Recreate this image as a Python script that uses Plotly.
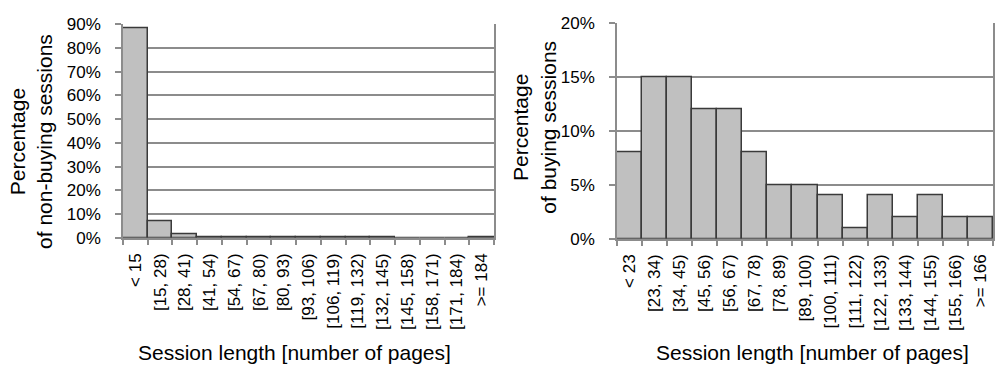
import plotly.graph_objects as go

# Session-length bins (number of pages) and share of sessions in each bin
nonbuy_bins = ["< 15", "[15, 28)", "[28, 41)", "[41, 54)", "[54, 67)", "[67, 80)",
               "[80, 93)", "[93, 106)", "[106, 119)", "[119, 132)", "[132, 145)",
               "[145, 158)", "[158, 171)", "[171, 184)", ">= 184"]
nonbuy_pct = [88.5, 7.2, 1.5, 0.3, 0.3, 0.3, 0.3, 0.3, 0.3, 0.3, 0.3,
              0.0, 0.0, 0.0, 0.4]

buy_bins = ["< 23", "[23, 34)", "[34, 45)", "[45, 56)", "[56, 67)", "[67, 78)",
            "[78, 89)", "[89, 100)", "[100, 111)", "[111, 122)", "[122, 133)",
            "[133, 144)", "[144, 155)", "[155, 166)", ">= 166"]
buy_pct = [8, 15, 15, 12, 12, 8, 5, 5, 4, 1, 4, 2, 4, 2, 2]

nonbuy_ticks = [0, 10, 20, 30, 40, 50, 60, 70, 80, 90]
buy_ticks = [0, 5, 10, 15, 20]

FONT = "Liberation Sans, Arial, sans-serif"
BAR_FILL = "#c0c0c0"
BAR_EDGE = "#3a3a3a"
GRID = "#8c8c8c"
W, H = 999, 377

fig = go.Figure()
fig.add_trace(go.Bar(x=nonbuy_bins, y=nonbuy_pct, xaxis="x", yaxis="y",
                     marker=dict(color=BAR_FILL, line=dict(color=BAR_EDGE, width=1.5)),
                     showlegend=False))
fig.add_trace(go.Bar(x=buy_bins, y=buy_pct, xaxis="x2", yaxis="y2",
                     marker=dict(color=BAR_FILL, line=dict(color=BAR_EDGE, width=1.5)),
                     showlegend=False))

def xaxis(domain, anchor):
    return dict(domain=domain, anchor=anchor, type="category",
                showline=True, linecolor=GRID, linewidth=1.5,
                ticks="outside", tickson="boundaries", ticklen=5,
                tickcolor=GRID, tickwidth=1.5, tickangle=-90,
                ticklabelstandoff=7,
                tickfont=dict(family=FONT, size=17, color="#000"),
                showgrid=False, fixedrange=True)

def yaxis(domain, anchor, top, ticks):
    return dict(domain=domain, anchor=anchor, range=[0, top],
                tickvals=ticks, ticktext=[f"{t}%" for t in ticks],
                showline=True, mirror=True, linecolor=GRID, linewidth=1.5,
                ticks="outside", ticklen=6, tickcolor=GRID, tickwidth=1.5,
                ticklabelstandoff=11,
                showgrid=True, gridcolor=GRID, gridwidth=1.5,
                zeroline=False,
                tickfont=dict(family=FONT, size=17, color="#000"),
                fixedrange=True)

fig.update_layout(
    width=W, height=H,
    margin=dict(l=0, r=0, t=0, b=0),
    paper_bgcolor="white", plot_bgcolor="white",
    bargap=0,
    xaxis=xaxis([123 / W, 494 / W], "y"),
    yaxis=yaxis([1 - 241 / H, 1 - 16 / H], "x", 90, nonbuy_ticks),
    xaxis2=xaxis([617 / W, 993 / W], "y2"),
    yaxis2=yaxis([1 - 242 / H, 1 - 15 / H], "x2", 20, buy_ticks),
)

title_font = dict(family=FONT, size=21, color="#000")
xt_font = dict(family=FONT, size=21, color="#000")

fig.add_annotation(text="Percentage<br>of non-buying sessions", textangle=-90,
                   x=31 / W, y=1 - 140 / H, xref="paper", yref="paper",
                   xanchor="center", yanchor="middle", showarrow=False,
                   font=title_font)
fig.add_annotation(text="Percentage<br>of buying sessions", textangle=-90,
                   x=534 / W, y=1 - 125 / H, xref="paper", yref="paper",
                   xanchor="center", yanchor="middle", showarrow=False,
                   font=title_font)
fig.add_annotation(text="Session length [number of pages]",
                   x=294 / W, y=1 - 362 / H, xref="paper", yref="paper",
                   xanchor="center", yanchor="middle", showarrow=False,
                   font=xt_font)
fig.add_annotation(text="Session length [number of pages]",
                   x=812 / W, y=1 - 362 / H, xref="paper", yref="paper",
                   xanchor="center", yanchor="middle", showarrow=False,
                   font=xt_font)

fig.write_html("out.html")
